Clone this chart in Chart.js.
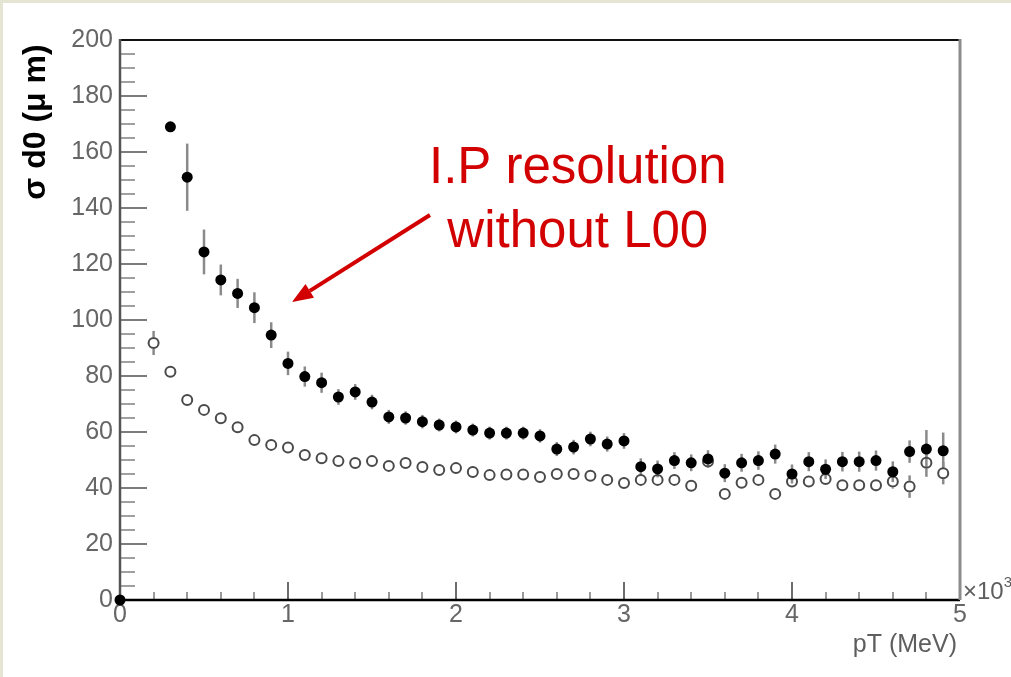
<!DOCTYPE html>
<html>
<head>
<meta charset="utf-8">
<title>sigma d0 vs pT</title>
<script src="https://cdn.jsdelivr.net/npm/chart.js@4.4.1/dist/chart.umd.min.js"></script>
<style>
  html, body { margin: 0; padding: 0; background: #ffffff; }
  canvas { display: block; }
</style>
</head>
<body>
<canvas id="c" width="1011" height="677"></canvas>
<script>
// pT bin centres, in units of 10^3 MeV
const ptBins = [
  0.0, 0.1, 0.2, 0.3, 0.4, 0.5, 0.6, 0.7, 0.8, 0.9,
  1.0, 1.1, 1.2, 1.3, 1.4, 1.5, 1.6, 1.7, 1.8, 1.9,
  2.0, 2.1, 2.2, 2.3, 2.4, 2.5, 2.6, 2.7, 2.8, 2.9,
  3.0, 3.1, 3.2, 3.3, 3.4, 3.5, 3.6, 3.7, 3.8, 3.9,
  4.0, 4.1, 4.2, 4.3, 4.4, 4.5, 4.6, 4.7, 4.8, 4.9
];

// sigma d0 (um), filled markers: impact parameter resolution without L00
const sigmaNoL00 = [
  0, null, null, 169, 151, 124.3, 114.3, 109.5, 104.4, 94.6,
  84.5, 79.8, 77.6, 72.5, 74.3, 70.7, 65.4, 65.0, 63.7, 62.5,
  61.8, 60.7, 59.6, 59.6, 59.6, 58.6, 53.9, 54.6, 57.5, 55.7,
  56.8, 47.6, 46.8, 49.8, 49.0, 50.4, 45.3, 49.0, 49.8, 52.1,
  45.0, 49.4, 46.7, 49.4, 49.4, 49.8, 45.8, 53.0, 53.9, 53.3
];
const sigmaNoL00Err = [
  0.5, null, null, 1.5, 12, 8, 5.5, 5.2, 5.5, 4.6,
  4.2, 3.6, 3.6, 2.8, 2.8, 2.6, 2.5, 2.4, 2.4, 2.3,
  2.3, 2.3, 2.3, 2.3, 2.3, 2.4, 2.5, 2.6, 2.6, 2.7,
  2.8, 3.0, 3.0, 3.0, 3.0, 3.1, 3.2, 3.2, 3.3, 3.4,
  3.4, 3.4, 3.5, 3.5, 3.6, 3.6, 3.7, 4.0, 6.8, 6.5
];

// sigma d0 (um), open markers: with L00
const sigmaWithL00 = [
  null, null, 91.8, 81.5, 71.4, 67.9, 64.9, 61.7, 57.1, 55.4,
  54.5, 51.8, 50.6, 49.6, 48.9, 49.6, 47.9, 48.9, 47.5, 46.4,
  47.1, 45.7, 44.6, 44.8, 44.8, 43.9, 45.0, 45.0, 44.4, 42.9,
  41.8, 42.9, 42.9, 42.9, 40.8, 49.5, 37.9, 41.9, 42.9, 37.9,
  42.3, 42.3, 43.2, 41.0, 41.0, 41.0, 42.3, 40.5, 49.0, 45.3
];
const sigmaWithL00Err = [
  null, null, 4.3, 1.5, 1.0, 0.8, 0.8, 0.8, 0.8, 0.8,
  0.8, 0.8, 0.8, 0.8, 0.8, 0.8, 0.8, 0.8, 0.8, 0.8,
  0.8, 0.8, 0.8, 0.8, 0.8, 0.8, 0.9, 0.9, 0.9, 1.0,
  1.0, 1.1, 1.1, 1.2, 1.2, 1.3, 1.4, 1.4, 1.5, 1.5,
  1.6, 1.7, 1.8, 1.9, 2.0, 2.2, 2.5, 4.0, 5.0, 4.0
];

// axis tick labels
const xTickLabels = ['0', '1', '2', '3', '4', '5'];
const yTickLabels = ['0', '20', '40', '60', '80', '100', '120', '140', '160', '180', '200'];

// annotation text and arrow (data coordinates)
const noteLines = ['I.P resolution', 'without L00'];
const noteAnchor = { x: 2.725, y1: 148.9, y2: 126.1 };
const arrowFrom = { x: 1.845, y: 137.5 };
const arrowTo = { x: 1.024, y: 106.4 };

const FONT = '"Liberation Sans", Arial, Helvetica, sans-serif';
const FILLED_R = 5.5;
const OPEN_R = 6;

function toPoints(xs, ys) {
  const pts = [];
  xs.forEach((x, i) => { if (ys[i] !== null) pts.push({ x: x, y: ys[i] }); });
  return pts;
}

// white page with the thin beige margin on the top and left edges
const pagePlugin = {
  id: 'page',
  beforeDraw(chart) {
    const ctx = chart.ctx;
    ctx.save();
    ctx.fillStyle = '#ffffff';
    ctx.fillRect(0, 0, chart.width, chart.height);
    ctx.fillStyle = '#e5e5d3';
    ctx.fillRect(0, 0, chart.width, 3);
    ctx.fillRect(0, 0, 3, chart.height);
    ctx.restore();
  }
};

// frame, inward tick marks and vertical error bars
const framePlugin = {
  id: 'frame',
  beforeDatasetsDraw(chart) {
    const { ctx, chartArea: a, scales: { x, y } } = chart;
    ctx.save();
    ctx.lineCap = 'butt';
    // y ticks: major every 20, minor every 5
    for (let v = 0; v <= 200; v += 5) {
      const py = Math.round(y.getPixelForValue(v));
      const major = v % 20 === 0;
      ctx.strokeStyle = major ? '#7c7c7c' : '#a0a0a0';
      ctx.lineWidth = 2;
      ctx.beginPath();
      ctx.moveTo(a.left, py);
      ctx.lineTo(a.left + (major ? 27 : 15), py);
      ctx.stroke();
    }
    // x ticks: major every 1, minor every 0.2
    for (let i = 0; i <= 25; i++) {
      const px = Math.round(x.getPixelForValue(i * 0.2));
      const major = i % 5 === 0;
      ctx.strokeStyle = major ? '#6c6c6c' : '#9a9a9a';
      ctx.lineWidth = 2;
      ctx.beginPath();
      ctx.moveTo(px, a.bottom);
      ctx.lineTo(px, a.bottom - (major ? 18 : 8));
      ctx.stroke();
    }
    // frame lines
    ctx.lineWidth = 2;
    ctx.strokeStyle = '#111111';
    ctx.beginPath(); ctx.moveTo(a.left, a.top); ctx.lineTo(a.right, a.top); ctx.stroke();
    ctx.lineWidth = 2.5;
    ctx.strokeStyle = '#000000';
    ctx.beginPath(); ctx.moveTo(a.left, a.bottom); ctx.lineTo(a.right, a.bottom); ctx.stroke();
    ctx.strokeStyle = '#555555';
    ctx.beginPath(); ctx.moveTo(a.left, a.top - 1); ctx.lineTo(a.left, a.bottom); ctx.stroke();
    ctx.lineWidth = 3;
    ctx.strokeStyle = '#8c8c8c';
    ctx.beginPath(); ctx.moveTo(a.right, a.top - 1); ctx.lineTo(a.right, a.bottom); ctx.stroke();

    // error bars, drawn outside the marker only
    const drawErr = (vals, errs, color, r) => {
      ctx.strokeStyle = color;
      ctx.lineWidth = 2.5;
      ptBins.forEach((xv, i) => {
        if (vals[i] === null || errs[i] === null) return;
        const px = x.getPixelForValue(xv);
        const pc = y.getPixelForValue(vals[i]);
        const hi = y.getPixelForValue(vals[i] + errs[i]);
        const lo = y.getPixelForValue(vals[i] - errs[i]);
        if (pc - hi > r) {
          ctx.beginPath(); ctx.moveTo(px, hi); ctx.lineTo(px, pc - r); ctx.stroke();
        }
        if (lo - pc > r) {
          ctx.beginPath(); ctx.moveTo(px, pc + r); ctx.lineTo(px, lo); ctx.stroke();
        }
      });
    };
    drawErr(sigmaWithL00, sigmaWithL00Err, '#8a8a8a', OPEN_R);
    drawErr(sigmaNoL00, sigmaNoL00Err, '#8a8a8a', 0);
    ctx.restore();
  }
};

// axis titles, exponent label and the red annotation
const textPlugin = {
  id: 'texts',
  afterDraw(chart) {
    const { ctx, chartArea: a, scales: { x, y } } = chart;
    ctx.save();

    // y-axis title
    ctx.save();
    ctx.translate(45, 122);
    ctx.rotate(-Math.PI / 2);
    ctx.font = 'bold 32px ' + FONT;
    ctx.fillStyle = '#000000';
    ctx.textAlign = 'center';
    ctx.textBaseline = 'alphabetic';
    ctx.fillText('\u03C3 d0 (\u03BC m)', 0, 0);
    ctx.restore();

    // x-axis title
    ctx.font = '25px ' + FONT;
    ctx.fillStyle = '#5e5e5e';
    ctx.textAlign = 'right';
    ctx.textBaseline = 'alphabetic';
    ctx.fillText('pT (MeV)', a.right - 3, 652);

    // exponent at the end of the x axis
    ctx.textAlign = 'left';
    ctx.font = '24px ' + FONT;
    ctx.fillText('\u00D710', a.right + 3, a.bottom - 1);
    const w = ctx.measureText('\u00D710').width;
    ctx.font = '15px ' + FONT;
    ctx.fillText('3', a.right + 3 + w, a.bottom - 13);

    // annotation
    ctx.fillStyle = '#d20000';
    ctx.strokeStyle = '#d20000';
    ctx.font = '51px ' + FONT;
    ctx.textAlign = 'center';
    const tx = x.getPixelForValue(noteAnchor.x);
    ctx.fillText(noteLines[0], tx, y.getPixelForValue(noteAnchor.y1));
    ctx.fillText(noteLines[1], tx, y.getPixelForValue(noteAnchor.y2));

    const x0 = x.getPixelForValue(arrowFrom.x), y0 = y.getPixelForValue(arrowFrom.y);
    const x1 = x.getPixelForValue(arrowTo.x), y1 = y.getPixelForValue(arrowTo.y);
    const ang = Math.atan2(y1 - y0, x1 - x0);
    const headLen = 21, headHalf = 8;
    const bx = x1 - headLen * Math.cos(ang), by = y1 - headLen * Math.sin(ang);
    ctx.lineWidth = 4;
    ctx.beginPath();
    ctx.moveTo(x0, y0);
    ctx.lineTo(bx, by);
    ctx.stroke();
    ctx.beginPath();
    ctx.moveTo(x1, y1);
    ctx.lineTo(bx + headHalf * Math.sin(ang), by - headHalf * Math.cos(ang));
    ctx.lineTo(bx - headHalf * Math.sin(ang), by + headHalf * Math.cos(ang));
    ctx.closePath();
    ctx.fill();

    ctx.restore();
  }
};

new Chart(document.getElementById('c'), {
  type: 'scatter',
  data: {
    datasets: [
      {
        label: 'without L00',
        data: toPoints(ptBins, sigmaNoL00),
        pointStyle: 'circle',
        pointRadius: FILLED_R,
        backgroundColor: '#000000',
        borderColor: '#000000',
        borderWidth: 0,
        clip: false,
        order: 0
      },
      {
        label: 'with L00',
        data: toPoints(ptBins, sigmaWithL00),
        pointStyle: 'circle',
        pointRadius: OPEN_R - 1,
        backgroundColor: 'rgba(255,255,255,0)',
        borderColor: '#4a4a4a',
        borderWidth: 2,
        clip: false,
        order: 1
      }
    ]
  },
  options: {
    responsive: false,
    animation: false,
    events: [],
    layout: { padding: { top: 40, right: 51, left: 0, bottom: 0 } },
    plugins: {
      legend: { display: false },
      tooltip: { enabled: false },
      title: { display: false }
    },
    scales: {
      x: {
        type: 'linear',
        min: 0,
        max: 5,
        grid: { display: false, drawTicks: false },
        border: { display: false },
        ticks: {
          stepSize: 1,
          padding: 0,
          maxRotation: 0,
          color: '#666666',
          font: { family: FONT, size: 25 },
          callback: (v) => xTickLabels[Math.round(v)]
        },
        afterFit(s) { s.height = 77; }
      },
      y: {
        type: 'linear',
        min: 0,
        max: 200,
        grid: { display: false, drawTicks: false },
        border: { display: false },
        ticks: {
          stepSize: 20,
          padding: 7,
          color: '#666666',
          font: { family: FONT, size: 25 },
          callback: (v) => yTickLabels[Math.round(v / 20)]
        },
        afterFit(s) { s.width = 120; }
      }
    }
  },
  plugins: [pagePlugin, framePlugin, textPlugin]
});
</script>
</body>
</html>
